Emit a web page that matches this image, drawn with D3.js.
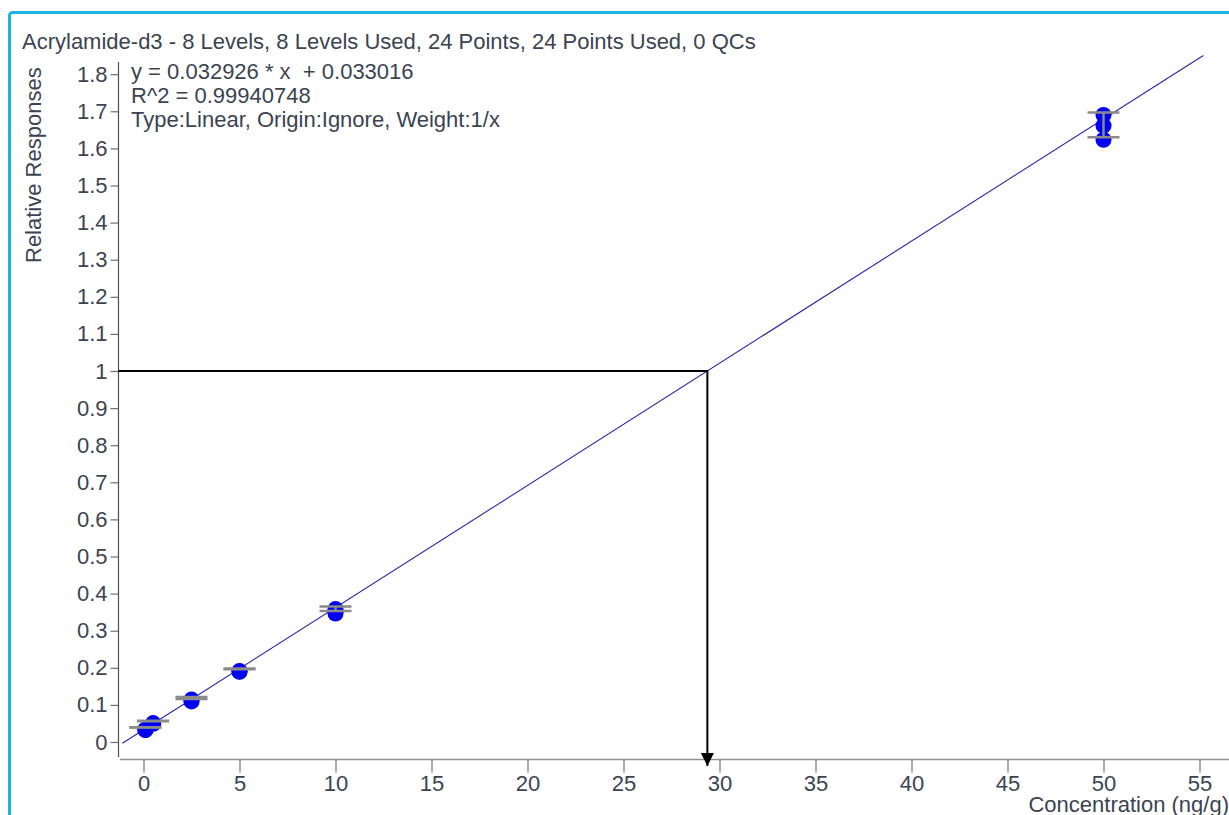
<!DOCTYPE html>
<html>
<head>
<meta charset="utf-8">
<script src="https://cdn.jsdelivr.net/npm/d3@7"></script>
<style>
  html, body { margin: 0; padding: 0; background: #ffffff; overflow: hidden; }
  svg { display: block; font-family: "Liberation Sans", Arial, sans-serif; }
  .pre { white-space: pre; }
</style>
</head>
<body>
<svg id="chart" width="1229" height="815"></svg>
<script>
// Calibration levels (ng/g) and their three replicate relative responses
const levels = [0.1, 0.5, 2.5, 5, 10, 50];
const rep1 = [0.039, 0.056, 0.116, 0.196, 0.353, 1.630];
const rep2 = [0.040, 0.057, 0.118, 0.197, 0.358, 1.668];
const rep3 = [0.040, 0.057, 0.121, 0.198, 0.365, 1.697];

// Fitted curve and the sample read-back
const slope = 0.032926;
const intercept = 0.033016;
const sampleResponse = 1;

const xTicks = [0, 5, 10, 15, 20, 25, 30, 35, 40, 45, 50, 55];
const yTicks = [0, 0.1, 0.2, 0.3, 0.4, 0.5, 0.6, 0.7, 0.8, 0.9, 1, 1.1, 1.2, 1.3, 1.4, 1.5, 1.6, 1.7, 1.8];

const titleText = "Acrylamide-d3 - 8 Levels, 8 Levels Used, 24 Points, 24 Points Used, 0 QCs";
const fitLines = [
  "y = 0.032926 * x  + 0.033016",
  "R^2 = 0.99940748",
  "Type:Linear, Origin:Ignore, Weight:1/x"
];

const textColor = "#3b4450";
const fontSize = 22;
const fontFamily = "'Liberation Sans', Arial, sans-serif";
const svg = d3.select("#chart");

// Outer panel frame
svg.append("rect")
  .attr("x", 9.5).attr("y", 12.5)
  .attr("width", 1260).attr("height", 900)
  .attr("rx", 3)
  .attr("fill", "none")
  .attr("stroke", "#1cb3e0")
  .attr("stroke-width", 3);

const x = d3.scaleLinear().domain([0, 55]).range([143.5, 1199.5]);
const y = d3.scaleLinear().domain([0, 1.8]).range([742, 74.2]);

// Title
svg.append("text")
  .attr("x", 22).attr("y", 49)
  .attr("fill", textColor)
  .attr("font-size", fontSize)
  .text(titleText);

// Y axis
const yAxis = d3.axisLeft(y)
  .tickValues(yTicks)
  .tickSize(8)
  .tickPadding(3)
  .tickFormat(d => String(+d.toFixed(1)));
const gy = svg.append("g").attr("transform", "translate(118.5,0)").call(yAxis);
gy.select(".domain").remove();
gy.append("line")
  .attr("x1", 0).attr("x2", 0)
  .attr("y1", 62).attr("y2", 757)
  .attr("stroke", "#4a4f57").attr("stroke-width", 1.2);
gy.selectAll(".tick line").attr("stroke", "#6b7078").attr("stroke-width", 1.2);
gy.selectAll(".tick text")
  .attr("fill", textColor)
  .attr("font-size", fontSize)
  .attr("font-family", fontFamily);

// X axis
const xAxis = d3.axisBottom(x)
  .tickValues(xTicks)
  .tickSize(13)
  .tickPadding(3)
  .tickFormat(d3.format("d"));
const gx = svg.append("g").attr("transform", "translate(0,759.5)").call(xAxis);
gx.select(".domain").remove();
gx.append("line")
  .attr("x1", 120).attr("x2", 1229)
  .attr("y1", 0).attr("y2", 0)
  .attr("stroke", "#8d9299").attr("stroke-width", 1.5);
gx.selectAll(".tick line").attr("stroke", "#8d9299").attr("stroke-width", 1.5);
gx.selectAll(".tick text")
  .attr("fill", textColor)
  .attr("font-size", fontSize)
  .attr("font-family", fontFamily);

// Axis titles
svg.append("text")
  .attr("transform", "translate(41,263) rotate(-90)")
  .attr("text-anchor", "start")
  .attr("fill", textColor)
  .attr("font-size", fontSize)
  .text("Relative Responses");

svg.append("text")
  .attr("x", 1229).attr("y", 812)
  .attr("text-anchor", "end")
  .attr("fill", textColor)
  .attr("font-size", fontSize)
  .text("Concentration (ng/g)");

// Regression line
const xLo = -1.1, xHi = 55.2;
svg.append("line")
  .attr("x1", x(xLo)).attr("y1", y(slope * xLo + intercept))
  .attr("x2", x(xHi)).attr("y2", y(slope * xHi + intercept))
  .attr("stroke", "#2424a8")
  .attr("stroke-width", 1.1);

// Sample read-back: response -> concentration
const sampleConc = (sampleResponse - intercept) / slope;
svg.append("defs").append("marker")
  .attr("id", "arrowHead")
  .attr("viewBox", "0 0 10 10")
  .attr("refX", 10).attr("refY", 5)
  .attr("markerUnits", "userSpaceOnUse")
  .attr("markerWidth", 13).attr("markerHeight", 15)
  .attr("orient", "auto")
  .append("path")
  .attr("d", "M0,0 L10,5 L0,10 Z")
  .attr("fill", "#000");

svg.append("path")
  .attr("d", `M${118.5},${y(sampleResponse)} H${x(sampleConc)} V${766}`)
  .attr("fill", "none")
  .attr("stroke", "#000")
  .attr("stroke-width", 2)
  .attr("marker-end", "url(#arrowHead)");

// Replicate points (marker glyphs sit slightly below their anchor)
const markerDrop = 2.5;
const points = [];
levels.forEach((c, i) => {
  [rep1[i], rep2[i], rep3[i]].forEach(r => points.push({ c, r }));
});
svg.append("g").selectAll("circle")
  .data(points)
  .join("circle")
  .attr("cx", d => x(d.c))
  .attr("cy", d => y(d.r) + markerDrop)
  .attr("r", 8)
  .attr("fill", "#0000f5");

// Min–max range bars for each level
const stats = levels.map((c, i) => {
  const vals = [rep1[i], rep2[i], rep3[i]];
  return { c, lo: d3.min(vals), hi: d3.max(vals) };
});
const bars = svg.append("g")
  .attr("stroke", "#8a8a8a")
  .attr("stroke-width", 2.5);
stats.forEach(d => {
  const cx = x(d.c);
  bars.append("line").attr("x1", cx).attr("x2", cx).attr("y1", y(d.lo)).attr("y2", y(d.hi));
  bars.append("line").attr("x1", cx - 16).attr("x2", cx + 16).attr("y1", y(d.lo)).attr("y2", y(d.lo));
  bars.append("line").attr("x1", cx - 16).attr("x2", cx + 16).attr("y1", y(d.hi)).attr("y2", y(d.hi));
});

// Fit summary
svg.append("g").selectAll("text")
  .data(fitLines)
  .join("text")
  .attr("class", "pre")
  .attr("x", 131)
  .attr("y", (d, i) => 79 + i * 24)
  .attr("fill", textColor)
  .attr("font-size", fontSize)
  .text(d => d);
</script>
</body>
</html>
